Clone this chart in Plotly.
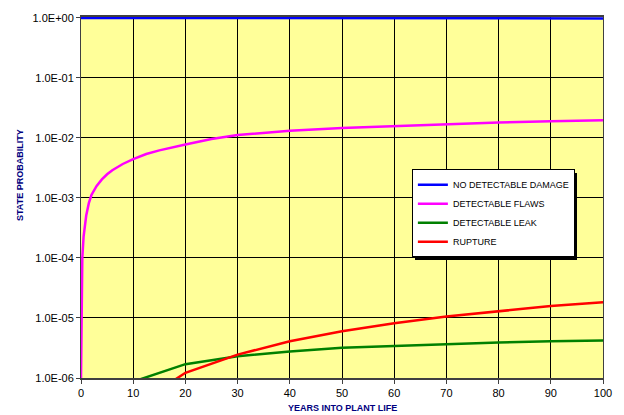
import plotly.graph_objects as go

# ---- data ----
years_damage = [0, 10, 20, 30, 40, 50, 60, 70, 80, 90, 100]
no_damage = [1.0, 0.9955, 0.992, 0.989, 0.987, 0.985, 0.984, 0.983, 0.982, 0.981, 0.980]

years_flaws = [0, 0.1, 0.25, 0.5, 1, 1.5, 2, 3, 4, 5, 6, 8, 10, 12.5, 15, 20, 25, 30,
               40, 50, 60, 70, 80, 90, 100]
flaws = [1.0e-6, 3.0e-5, 1.0e-4, 2.3e-4, 5.1e-4, 8.2e-4, 1.12e-3, 1.59e-3, 2.04e-3, 2.48e-3,
         2.9e-3, 3.68e-3, 4.45e-3, 5.4e-3, 6.2e-3, 7.8e-3, 9.6e-3, 1.12e-2,
         1.32e-2, 1.47e-2, 1.58e-2, 1.71e-2, 1.80e-2, 1.90e-2, 1.97e-2]

years_leak = [10, 20, 30, 40, 50, 60, 70, 80, 90, 100]
leak = [8.7e-7, 1.7e-6, 2.3e-6, 2.77e-6, 3.2e-6, 3.45e-6, 3.7e-6, 3.9e-6, 4.1e-6, 4.2e-6]

years_rupture = [10, 20, 30, 40, 50, 60, 70, 80, 90, 100]
rupture = [3.3e-7, 1.22e-6, 2.45e-6, 4.1e-6, 6.0e-6, 8.2e-6, 1.06e-5, 1.3e-5, 1.58e-5, 1.83e-5]

x_ticks = [0, 10, 20, 30, 40, 50, 60, 70, 80, 90, 100]
y_tickvals = [1e-6, 1e-5, 1e-4, 1e-3, 1e-2, 1e-1, 1e0]
y_ticktext = ["1.0E-06", "1.0E-05", "1.0E-04", "1.0E-03", "1.0E-02", "1.0E-01", "1.0E+00"]

series = [
    ("NO DETECTABLE DAMAGE", years_damage, no_damage, "#0000FF"),
    ("DETECTABLE FLAWS", years_flaws, flaws, "#FF00FF"),
    ("DETECTABLE LEAK", years_leak, leak, "#008000"),
    ("RUPTURE", years_rupture, rupture, "#FF0000"),
]

FONT = "Arial, Liberation Sans, sans-serif"

fig = go.Figure()
for name, xs, ys, col in series:
    fig.add_trace(go.Scatter(x=xs, y=ys, mode="lines", name=name,
                             line=dict(color=col, width=2.5)))

L, R, T, B = 81, 14.5, 14.8, 37
W, H = 624, 415
pw = W - L - R
ph = H - T - B

def px2paper_x(px):
    return (px - L) / pw

def px2paper_y(py):
    return (H - B - py) / ph

LEG_L, LEG_T = 416, 168

fig.update_layout(
    width=W, height=H,
    margin=dict(l=L, r=R, t=T, b=B, pad=0),
    paper_bgcolor="white",
    plot_bgcolor="#FFFF99",
    font=dict(family=FONT, size=11, color="#000000"),
    showlegend=True,
    legend=dict(
        x=px2paper_x(LEG_L), y=px2paper_y(LEG_T), xanchor="left", yanchor="top",
        bgcolor="white", bordercolor="black", borderwidth=1,
        font=dict(family=FONT, size=9, color="#000000"),
        tracegroupgap=0, itemwidth=30,
    ),
)

fig.update_xaxes(
    range=[0, 100], tickvals=x_ticks, ticktext=[str(v) for v in x_ticks],
    showgrid=True, gridcolor="#000000", gridwidth=1,
    showline=True, linecolor="#404040", linewidth=1.5, mirror=True,
    ticks="outside", ticklen=4, tickcolor="#404040",
    zeroline=False, tickfont=dict(size=11, color="#000000"),
)
fig.update_yaxes(
    type="log", range=[-6, 0.015],
    tickvals=y_tickvals, ticktext=y_ticktext,
    showgrid=True, gridcolor="#000000", gridwidth=1,
    showline=True, linecolor="#404040", linewidth=1, mirror=True,
    ticks="outside", ticklen=4, tickcolor="#404040",
    zeroline=False, tickfont=dict(size=11, color="#000000"),
)

fig.add_annotation(text="<b>YEARS INTO PLANT LIFE</b>", xref="paper", yref="paper",
                   x=px2paper_x(346), y=px2paper_y(408), showarrow=False,
                   xanchor="center", yanchor="middle",
                   font=dict(family=FONT, size=9, color="#000080"))
fig.add_annotation(text="<b>STATE PROBABILITY</b>", xref="paper", yref="paper",
                   x=px2paper_x(19), y=px2paper_y(174), showarrow=False,
                   xanchor="center", yanchor="middle", textangle=-90,
                   font=dict(family=FONT, size=9, color="#000080"))

# remove default page margin, and add a drop shadow behind the legend box
post = """
document.body.style.margin='0px';
var gd = document.getElementById('{plot_id}');
setTimeout(function(){
  var lg = gd.querySelector('g.legend');
  var bg = lg ? lg.querySelector('rect.bg') : null;
  if (bg) {
    var sh = bg.cloneNode(false);
    sh.setAttribute('class','legshadow');
    sh.style.fill = '#000';
    sh.style.stroke = 'none';
    sh.setAttribute('x', (parseFloat(bg.getAttribute('x')||0)+3));
    sh.setAttribute('y', (parseFloat(bg.getAttribute('y')||0)+3));
    bg.parentNode.insertBefore(sh, bg);
  }
}, 50);
"""
fig.write_html("out.html", post_script=post, config={"displayModeBar": False})
